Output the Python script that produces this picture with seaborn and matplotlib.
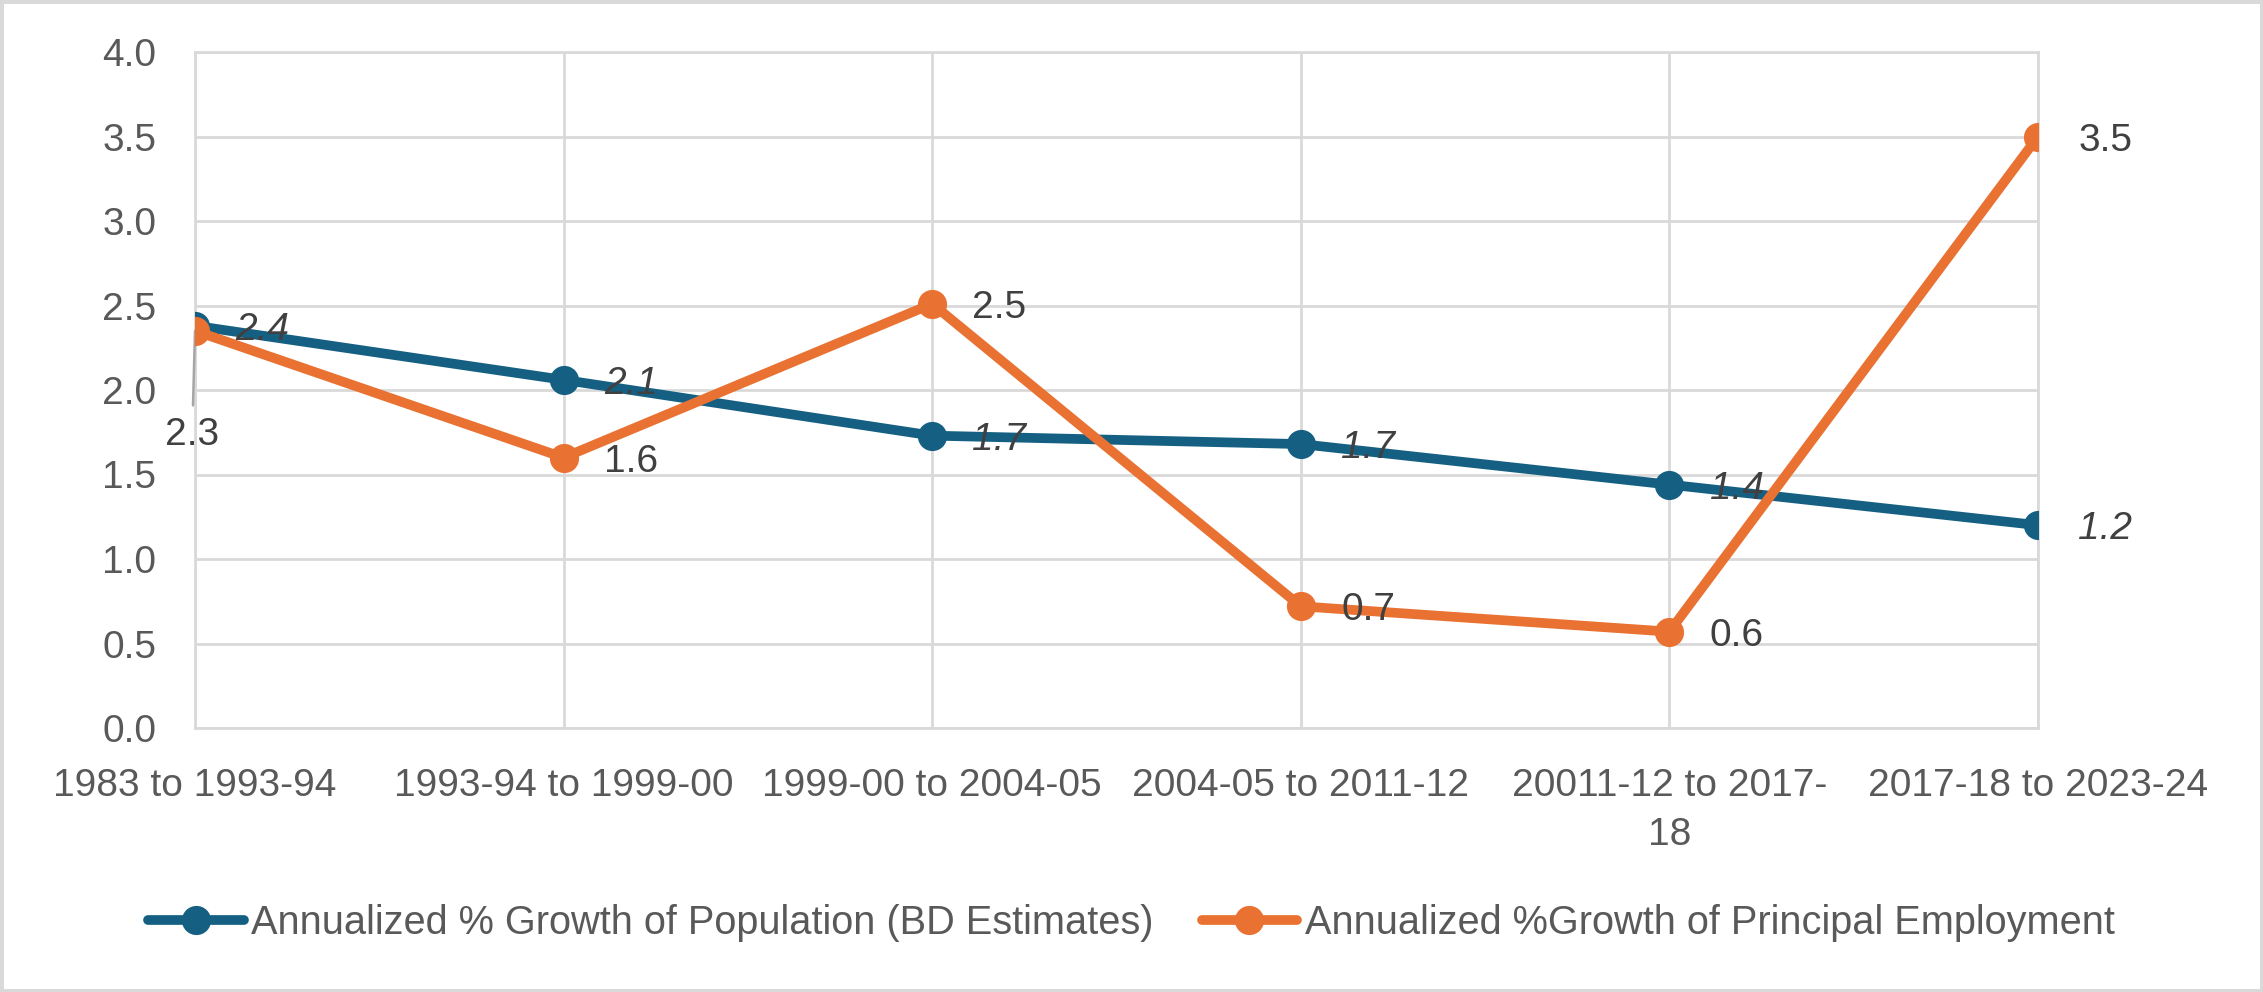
import matplotlib.pyplot as plt
import numpy as np
import pandas as pd
import seaborn as sns
from matplotlib.patches import Rectangle

# data
categories = ['1983 to 1993-94', '1993-94 to 1999-00', '1999-00 to 2004-05',
              '2004-05 to 2011-12', '20011-12 to 2017-18', '2017-18 to 2023-24']
tick_labels = ['1983 to 1993-94', '1993-94 to 1999-00', '1999-00 to 2004-05',
               '2004-05 to 2011-12', '20011-12 to 2017-\n18', '2017-18 to 2023-24']
pop_name = 'Annualized % Growth of Population (BD Estimates)'
emp_name = 'Annualized %Growth of Principal Employment'
pop_growth = [2.38, 2.06, 1.73, 1.68, 1.44, 1.20]
emp_growth = [2.35, 1.60, 2.51, 0.72, 0.57, 3.50]
pop_labels = ['2.4', '2.1', '1.7', '1.7', '1.4', '1.2']
emp_labels = ['2.3', '1.6', '2.5', '0.7', '0.6', '3.5']

BLUE = '#156082'
ORANGE = '#E97132'
GRID = '#D9D9D9'

df = pd.DataFrame({
    'period': categories * 2,
    'value': pop_growth + emp_growth,
    'series': [pop_name] * 6 + [emp_name] * 6,
})

sns.set_theme(style='white')
plt.rcParams['font.family'] = ['Liberation Sans', 'DejaVu Sans']

fig = plt.figure(figsize=(22.63, 9.92), dpi=100)
ax = fig.add_axes([195 / 2263, 1 - 728 / 992, (2038 - 195) / 2263, (728 - 52) / 992])

sns.lineplot(data=df, x='period', y='value', hue='series',
             palette={pop_name: BLUE, emp_name: ORANGE},
             marker='o', markersize=21, markeredgewidth=0, linewidth=7,
             solid_capstyle='round', sort=False, ax=ax)

ax.set_xlim(0, 5)
ax.set_ylim(0, 4)
ax.set_yticks(np.arange(0, 4.01, 0.5))
ax.set_yticklabels([f'{v:.1f}' for v in np.arange(0, 4.01, 0.5)])
ax.set_xticks(range(6), labels=tick_labels)
ax.set_xlabel('')
ax.set_ylabel('')
ax.grid(True, color=GRID, linewidth=2)
ax.set_axisbelow(True)
for s in ax.spines.values():
    s.set_visible(True)
    s.set_color(GRID)
    s.set_linewidth(2)
    s.set_zorder(0.6)
ax.tick_params(axis='both', length=0, labelsize=28, colors='#595959')
ax.tick_params(axis='x', pad=29)
ax.tick_params(axis='y', pad=28)
for t in ax.get_xticklabels():
    t.set_linespacing(1.45)

# data labels
for i, (v, lab) in enumerate(zip(pop_growth, pop_labels)):
    ax.annotate(lab, (i, v), xytext=(29, -3), textcoords='offset points',
                ha='left', va='center', fontsize=28, style='italic', color='#404040',
                zorder=4)
for i, (v, lab) in enumerate(zip(emp_growth, emp_labels)):
    if i == 0:
        ax.annotate(lab, (i, v), xytext=(-2, -75), textcoords='offset points',
                    ha='center', va='center', fontsize=28, color='#404040',
                    arrowprops=dict(arrowstyle='-', color='#A6A6A6', lw=1.8,
                                    shrinkA=6, shrinkB=0), zorder=1.9)
    else:
        ax.annotate(lab, (i, v), xytext=(29, -3), textcoords='offset points',
                    ha='left', va='center', fontsize=28, color='#404040', zorder=4)

handles, labels = ax.get_legend_handles_labels()
ax.get_legend().remove()
for h in handles:
    h.set_markersize(21)
    h.set_linewidth(7)
    h.set_markeredgewidth(0)
    h.set_solid_capstyle('round')
leg = fig.legend(handles, labels, loc='center', bbox_to_anchor=(0.5, 1 - 923 / 992),
                 ncol=2, frameon=False, fontsize=28.6, handlelength=2.4,
                 handletextpad=0.2, columnspacing=1.2)
for t in leg.get_texts():
    t.set_color('#595959')

fig.add_artist(Rectangle((0, 0), 1, 1, transform=fig.transFigure, fill=False,
                         edgecolor=GRID, linewidth=5))

fig.savefig('out.png', dpi=100)
